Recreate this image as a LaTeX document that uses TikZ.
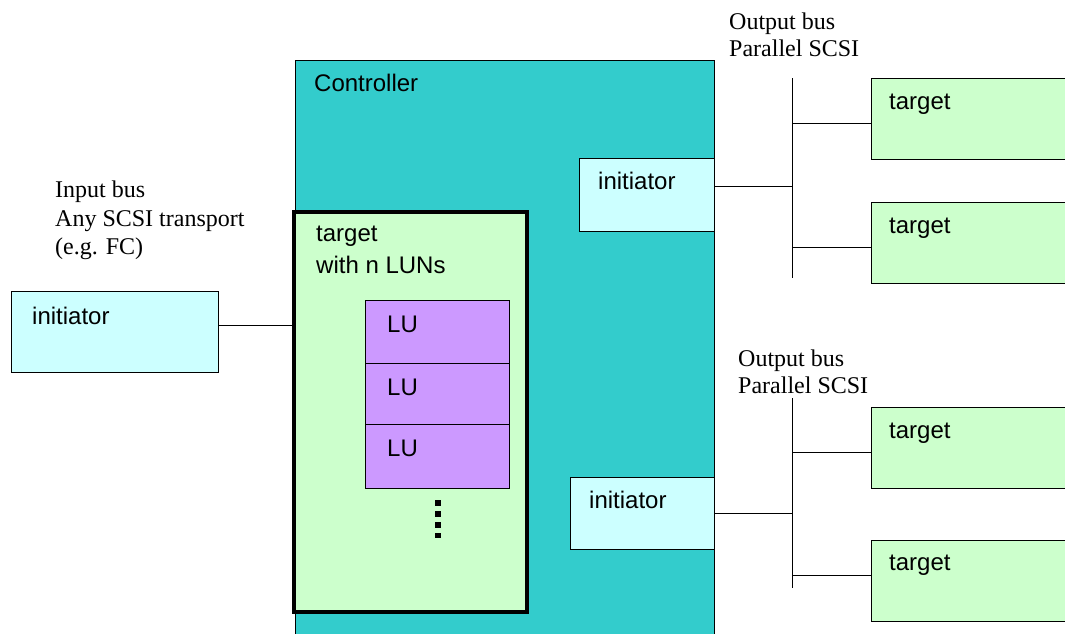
\documentclass[tikz,border=0pt]{standalone}
\usepackage{fontspec}
\setmainfont{Liberation Serif}
\setsansfont{Liberation Sans}
\usetikzlibrary{positioning,fit,calc}
\definecolor{ctrlteal}{RGB}{51,204,204}
\definecolor{inicyan}{RGB}{204,255,255}
\definecolor{tgtgreen}{RGB}{204,255,204}
\definecolor{lupurple}{RGB}{204,153,255}
\tikzset{
    box/.style   = {draw=black, line width=1pt, inner sep=0pt, outer sep=0pt},
    ctrl/.style  = {box, fill=ctrlteal},
    ini/.style   = {box, fill=inicyan},
    tgt/.style   = {box, fill=tgtgreen},
    lun/.style   = {box, fill=lupurple, minimum width=144pt},
    wire/.style  = {draw=black, line width=1pt},
    lbl/.style   = {anchor=base west, inner sep=0pt,
            font=\sffamily\fontsize{24}{28}\selectfont},
    note/.style  = {anchor=base west, inner sep=0pt,
            font=\rmfamily\fontsize{24}{28}\selectfont},
    vdots/.style = {line width=5.5pt, dash pattern=on 5.5pt off 5.5pt},
}

\begin{document}
\begin{tikzpicture}[x=1pt, y=-1pt]
    \useasboundingbox (0,0) rectangle (1065,633);
    \clip (0,0) rectangle (1065,633);

    % Nodes
    \node[ctrl, fit={(295,60) (714,660)}] (ctrl) {};
    \node[lbl] (ctrl-txt) at (314,91) {Controller};

    \node[tgt, line width=4pt, fit={(294,212) (527,612)}] (tgt) {};
    \node[lbl] (tgt-txt) at (316,241) {target};
    \node[lbl] (tgt-txt2) at (316,273) {with n LUNs};

    \node[lun, minimum height=63pt, anchor=north west] (lu1) at (365,300) {};
    \node[lun, minimum height=61pt, below=0pt of lu1] (lu2) {};
    \node[lun, minimum height=64pt, below=0pt of lu2] (lu3) {};
    \foreach \i in {1,2,3}
        \node[lbl] (lu\i-txt) at ([xshift=22pt,yshift=-32pt]lu\i.north west) {LU};

    \node[ini, fit={(11,291) (218,372)}] (ini0) {};
    \node[lbl] (ini0-txt) at (32,324) {initiator};

    \node[note] (in-txt1) at (55,197) {Input bus};
    \node[note] (in-txt2) at (55,226) {Any SCSI transport};
    \node[note] (in-txt3) at (55,254) {(e.g. FC)};

    \node[ini, fit={(579,158) (714,231)}] (iniA) {};
    \node[lbl] (iniA-txt) at (598,189) {initiator};
    \node[ini, fit={(570,477) (714,549)}] (iniB) {};
    \node[lbl] (iniB-txt) at (589,508) {initiator};

    \node[tgt, fit={(871,78) (1080,159)}] (tA1) {};
    \node[lbl] (tA1-txt) at (889,109) {target};
    \node[tgt, fit={(871,202) (1080,283)}] (tA2) {};
    \node[lbl] (tA2-txt) at (889,233) {target};
    \node[tgt, fit={(871,407) (1080,488)}] (tB1) {};
    \node[lbl] (tB1-txt) at (889,438) {target};
    \node[tgt, fit={(871,540) (1080,621)}] (tB2) {};
    \node[lbl] (tB2-txt) at (889,570) {target};

    \node[note] (outA-txt1) at (729,29) {Output bus};
    \node[note] (outA-txt2) at (729,56) {Parallel SCSI};
    \node[note] (outB-txt1) at (738,366) {Output bus};
    \node[note] (outB-txt2) at (738,393) {Parallel SCSI};

    \coordinate (busA-top) at (792,78);
    \coordinate (busA-bot) at (792,278);
    \coordinate (busB-top) at (792,398);
    \coordinate (busB-bot) at (792,588);

    % Wires
    \draw[vdots] ([xshift=1pt,yshift=-12pt]lu3.south) -- ++(0pt,-38pt);
    \draw[wire] ([yshift=6.5pt]ini0.east) -- ([yshift=6.5pt]ini0.east -| tgt.west);

    \draw[wire] (busA-top) -- (busA-bot);
    \draw[wire] ([yshift=8.5pt]iniA.east) -- ([yshift=8.5pt]iniA.east -| busA-top);
    \draw[wire] ([yshift=-4.5pt]tA1.west) -- ([yshift=-4.5pt]tA1.west -| busA-top);
    \draw[wire] ([yshift=-4.5pt]tA2.west) -- ([yshift=-4.5pt]tA2.west -| busA-top);

    \draw[wire] (busB-top) -- (busB-bot);
    \draw[wire] (iniB.east) -- (iniB.east -| busB-top);
    \draw[wire] ([yshift=-4.5pt]tB1.west) -- ([yshift=-4.5pt]tB1.west -| busB-top);
    \draw[wire] ([yshift=5.5pt]tB2.west) -- ([yshift=5.5pt]tB2.west -| busB-top);
\end{tikzpicture}
\end{document}
